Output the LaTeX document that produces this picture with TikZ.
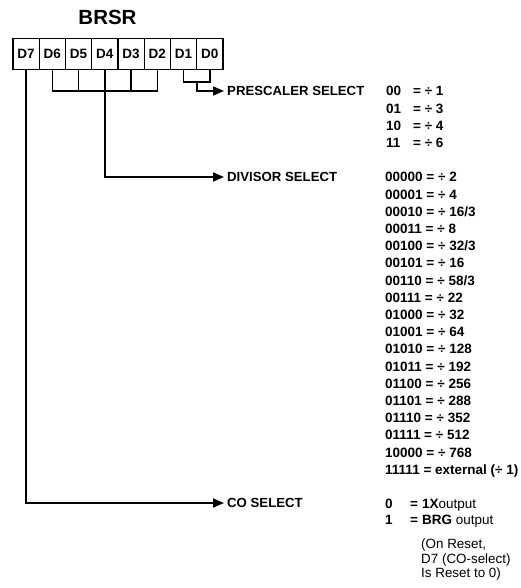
\documentclass[tikz,border=0pt]{standalone}
\usepackage{fontspec}
\setmainfont{Liberation Sans}
\usetikzlibrary{arrows.meta}
\begin{document}
\begin{tikzpicture}[x=1pt,y=-1pt,
  reg/.style={draw, line width=1.4pt, minimum width=26.25pt, minimum height=31pt, inner sep=0pt,
    font=\fontsize{13.5}{13.5}\selectfont\bfseries},
  lbl/.style={anchor=west, inner sep=0pt, font=\fontsize{13.2}{14}\selectfont\bfseries,
    text height=9.5pt, text depth=0pt},
  val/.style={anchor=west, inner sep=0pt, font=\fontsize{13.5}{14}\selectfont\bfseries,
    text height=9.7pt, text depth=0pt},
  note/.style={anchor=west, inner sep=0pt, font=\fontsize{13.4}{14}\selectfont,
    text height=9.7pt, text depth=0pt},
  wire/.style={line width=1.6pt},
  arr/.style={wire, -{Triangle[length=11pt,width=9pt]}, shorten >=3pt}]
\useasboundingbox (0,0) rectangle (521,588);

% title
\node[font=\fontsize{20.5}{20.5}\selectfont\bfseries] (title) at (107.5,17) {BRSR};

% register
\foreach \n [count=\k from 0] in {7,6,5,4,3,2,1,0}
  \node[reg] (d\n) at ({13+26.25*(\k+0.5)},54) {D\n};

% helper levels
\coordinate (ylow) at (0,91);
\coordinate (yd) at (0,82);
\coordinate (mid10) at (196.75,82);

% labels
\node[lbl] (pre) at (227,91) {PRESCALER SELECT};
\node[lbl] (div) at (227,177) {DIVISOR SELECT};
\node[lbl] (co) at (227,503) {CO SELECT};

% bracket D6..D2
\draw[wire] (d6.south) -- (d6.south |- ylow) -- (d2.south |- ylow) -- (d2.south);
\foreach \n in {5,3}
  \draw[wire] (d\n.south) -- (d\n.south |- ylow);
\draw[arr] (d4.south) |- (div.west);

% bracket D1..D0
\draw[wire] (d1.south) -- (d1.south |- yd) -- (d0.south |- yd) -- (d0.south);
\draw[arr] (mid10) |- (pre.west);

% D7
\draw[arr] (d7.south) |- (co.west);

% prescaler values
\node[val] (p0) at (386,91)    {\makebox[27pt][l]{00}= ÷ 1};
\node[val] (p1) at (386,108.3) {\makebox[27pt][l]{01}= ÷ 3};
\node[val] (p2) at (386,125.6) {\makebox[27pt][l]{10}= ÷ 4};
\node[val] (p3) at (386,143)   {\makebox[27pt][l]{11}= ÷ 6};

% divisor values
\node[val] (v0)  at (385,177.0) {00000 = ÷ 2};
\node[val] (v1)  at (385,194.2) {00001 = ÷ 4};
\node[val] (v2)  at (385,211.4) {00010 = ÷ 16/3};
\node[val] (v3)  at (385,228.6) {00011 = ÷ 8};
\node[val] (v4)  at (385,245.8) {00100 = ÷ 32/3};
\node[val] (v5)  at (385,263.0) {00101 = ÷ 16};
\node[val] (v6)  at (385,280.2) {00110 = ÷ 58/3};
\node[val] (v7)  at (385,297.4) {00111 = ÷ 22};
\node[val] (v8)  at (385,314.6) {01000 = ÷ 32};
\node[val] (v9)  at (385,331.8) {01001 = ÷ 64};
\node[val] (v10) at (385,349.0) {01010 = ÷ 128};
\node[val] (v11) at (385,366.2) {01011 = ÷ 192};
\node[val] (v12) at (385,383.4) {01100 = ÷ 256};
\node[val] (v13) at (385,400.6) {01101 = ÷ 288};
\node[val] (v14) at (385,417.8) {01110 = ÷ 352};
\node[val] (v15) at (385,435.0) {01111 = ÷ 512};
\node[val] (v16) at (385,452.2) {10000 = ÷ 768};
\node[val] (v17) at (385,469.4) {11111 = external (÷ 1)};

% CO select values
\node[val] (c0) at (385,504) {\makebox[25pt][l]{0}\makebox[12pt][l]{=}1X{\mdseries output}};
\node[val] (c1) at (385,519.5) {\makebox[25pt][l]{1}\makebox[12pt][l]{=}BRG {\mdseries output}};
\node[note] (n1) at (421,544) {(On Reset,};
\node[note] (n2) at (421,558.5) {D7 (CO-select)};
\node[note] (n3) at (421,573) {Is Reset to 0)};
\end{tikzpicture}
\end{document}
